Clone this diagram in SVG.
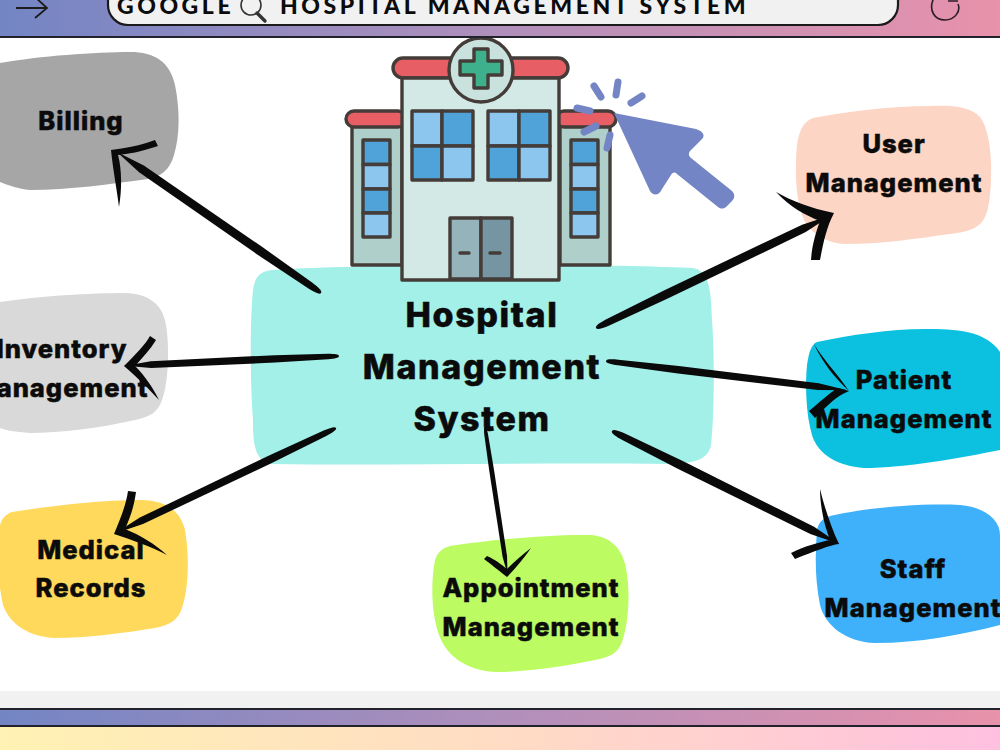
<svg xmlns="http://www.w3.org/2000/svg" width="1000" height="750" viewBox="0 0 1000 750">
<defs>
<linearGradient id="bar" x1="0" x2="1" y1="0" y2="0"><stop offset="0" stop-color="#7385c4"/><stop offset="0.5" stop-color="#b08fbb"/><stop offset="1" stop-color="#e892ab"/></linearGradient>
<linearGradient id="foot" x1="0" x2="1" y1="0" y2="0"><stop offset="0" stop-color="#fff2b3"/><stop offset="0.5" stop-color="#ffdcc4"/><stop offset="1" stop-color="#ffc0e0"/></linearGradient>
<!-- brush stroke, 100 units long; each connector scales it to its own length and weight -->
<path id="shaft" d="M0 0C0 -2 2 -2.6 5 -3L30 -3.9L88 -3.6L100 0L88 3.6L30 3.9L5 3C2 2.6 0 2 0 0Z"/>
</defs>
<style>
.lbl{font-family:"Inter","Open Sans","Liberation Sans",sans-serif;font-weight:800;fill:#0b0b0b;stroke:#0b0b0b;stroke-width:.5;text-anchor:middle;font-size:25.5px;letter-spacing:1px}
.big{font-size:34px;letter-spacing:1.6px}
.ttl{font-family:"Lato","Liberation Sans",sans-serif;font-weight:900;font-size:23px;letter-spacing:3.55px;fill:#0b0b0b}
.ink{fill:#0a0a0a}
.o{stroke:#443c38;stroke-width:3.4;stroke-linejoin:round}
.lt{fill:#8cc6ee}.dk{fill:#4fa3d9}
.sp{fill:none;stroke:#7385c4;stroke-width:7;stroke-linecap:round}
</style>
<rect width="1000" height="750" fill="#fff"/>
<g id="footer">
<rect x="0" y="691" width="1000" height="17" fill="#f1f1f1"/>
<rect x="0" y="708" width="1000" height="18" fill="url(#bar)"/>
<rect x="0" y="708" width="1000" height="2" fill="#22222c"/>
<rect x="0" y="725" width="1000" height="2" fill="#22222c"/>
<rect x="0" y="727" width="1000" height="23" fill="url(#foot)"/>
</g>
<g id="hub">
<path d="M272 270C400 263 590 264 692 268C708 270 711 285 712 320C715 360 714 420 711 445C708 460 695 463 670 464C540 462 400 466 270 464C255 460 253 445 253 420C250 380 250 320 253 290C255 275 262 271 272 270Z" fill="#a2f0e8"/>
<g id="hospital-building">
<rect x="352" y="125" width="50" height="140" class="o" fill="#aecfca"/>
<rect x="560" y="125" width="50" height="140" class="o" fill="#aecfca"/>
<rect x="346" y="111" width="60" height="16" rx="8" class="o" fill="#e75f65"/>
<rect x="556" y="111" width="60" height="16" rx="8" class="o" fill="#e75f65"/>
<rect x="393" y="58" width="175" height="20" rx="10" class="o" fill="#e75f65"/>
<rect x="402" y="78" width="157" height="202" class="o" fill="#d3e9e6"/>
<circle cx="481" cy="70" r="32" class="o" fill="#c9e2de"/>
<path d="M474 49H488V61H502V75H488V88H474V75H460V61H474Z" class="o" fill="#3fb08c"/>
<g class="o">
<rect x="412" y="111" width="30" height="35" class="lt"/><rect x="442" y="111" width="31" height="35" class="dk"/>
<rect x="412" y="146" width="30" height="34" class="dk"/><rect x="442" y="146" width="31" height="34" class="lt"/>
<rect x="488" y="111" width="31" height="35" class="lt"/><rect x="519" y="111" width="31" height="35" class="dk"/>
<rect x="488" y="146" width="31" height="34" class="dk"/><rect x="519" y="146" width="31" height="34" class="lt"/>
<rect x="363" y="140" width="27" height="24.5" class="dk"/><rect x="363" y="164.5" width="27" height="24.5" class="lt"/>
<rect x="363" y="189" width="27" height="24" class="dk"/><rect x="363" y="213" width="27" height="24" class="lt"/>
<rect x="571" y="140" width="27" height="24.5" class="dk"/><rect x="571" y="164.5" width="27" height="24.5" class="lt"/>
<rect x="571" y="189" width="27" height="24" class="dk"/><rect x="571" y="213" width="27" height="24" class="lt"/>
<rect x="450" y="218" width="31" height="61" fill="#95b3bb"/><rect x="481" y="218" width="31" height="61" fill="#7595a3"/>
</g>
<path d="M460 253H469M490 253H500" stroke="#443c38" stroke-width="3.4" stroke-linecap="round"/>
</g>
<g id="cursor">
<path d="M614 113L696 129C705 132 705 137 701 140L690 151C688 154 689 156 691 158L732 191C735 194 735 198 732 201L726 207C723 209 721 209 718 207L677 174C675 172 673 172 671 175L662 189C659 196 653 196 650 191Z" fill="#7385c4"/>
<path class="sp" d="M594 86L601 97M618 82L616 95M642 96L631 103M577 108L590 111M584 132L596 126M607 148L610 135"/>
</g>
<text class="lbl big" x="482" y="327">Hospital</text>
<text class="lbl big" x="482" y="379">Management</text>
<text class="lbl big" x="482" y="431">System</text>
</g>
<g id="top-bar">
<rect x="0" y="0" width="1000" height="37" fill="url(#bar)"/>
<rect x="0" y="36" width="1000" height="2" fill="#22222c"/>
<rect x="108" y="-30" width="790" height="55" rx="20" fill="#f1f1f1" stroke="#1a1a1a" stroke-width="2.2"/>
<path d="M16 8H47M35 -3L47 8L35 18" fill="none" stroke="#1c1c1c" stroke-width="1.8"/>
<path d="M933 0C929 10 934 20 945 20C955 20 961 11 958 4M948 1H958" fill="none" stroke="#2a1c28" stroke-width="1.6"/>
<text class="ttl" x="117" y="14">GOOGLE</text>
<circle cx="251" cy="5" r="10" fill="none" stroke="#333" stroke-width="1.6"/>
<path d="M257 13L265 21" stroke="#333" stroke-width="3.4" stroke-linecap="round"/>
<text class="ttl" x="280" y="14">HOSPITAL MANAGEMENT SYSTEM</text>
</g>
<g id="billing">
<path d="M0 63C40 56 95 52 130 52C155 52 170 62 175 85C180 110 180 135 174 155C170 170 160 177 148 179C110 184 70 190 30 190C18 189 8 185 0 182Z" fill="#a6a6a6"/>
<text class="lbl" x="81" y="130">Billing</text>
</g>
<g id="inventory">
<path d="M0 302C40 296 90 293 125 293C150 294 163 305 166 325C170 350 168 385 162 400C158 412 150 417 135 420C100 428 60 433 30 433C15 432 5 430 0 428Z" fill="#d9d9d9"/>
<text class="lbl" x="62" y="358">Inventory</text>
<text class="lbl" x="60" y="397">Management</text>
</g>
<g id="medical">
<path d="M12 512C50 506 100 500 140 500C165 500 180 510 185 530C190 560 188 590 182 608C178 620 170 625 155 628C125 633 85 638 55 638C30 637 10 625 3 605C-3 580 -3 545 0 525C2 518 6 514 12 512Z" fill="#ffd95c"/>
<text class="lbl" x="91" y="559">Medical</text>
<text class="lbl" x="91" y="597">Records</text>
</g>
<g id="appointment">
<path d="M450 546C490 540 550 534 590 535C610 536 622 548 626 568C631 595 628 625 622 642C618 652 612 656 600 659C565 666 530 672 495 672C465 670 445 655 438 632C431 610 431 580 435 560C437 553 442 548 450 546Z" fill="#bcfb62"/>
<text class="lbl" x="531" y="597">Appointment</text>
<text class="lbl" x="531" y="636">Management</text>
</g>
<g id="staff">
<path d="M827 517C860 508 920 503 960 505C985 507 1000 520 1000 535V625C960 635 920 643 875 643C845 642 825 625 820 605C815 580 815 555 817 530C818 524 822 519 827 517Z" fill="#3fb1fb"/>
<text class="lbl" x="913" y="578">Staff</text>
<text class="lbl" x="913" y="617">Management</text>
</g>
<g id="patient">
<path d="M817 342C850 335 890 329 925 329C955 329 985 330 1000 352V450C960 458 905 468 864 468C838 466 818 455 812 435C806 415 805 385 807 365C809 352 811 345 817 342Z" fill="#0cc0e0"/>
<text class="lbl" x="904" y="389">Patient</text>
<text class="lbl" x="904" y="428">Management</text>
</g>
<g id="user">
<path d="M813 118C850 111 890 106 930 106C950 105 970 106 980 117C990 130 992 160 991 180C990 205 987 218 980 224C974 230 965 232 950 234C915 239 880 244 845 244C825 243 808 232 802 215C795 195 795 165 797 145C799 130 804 121 813 118Z" fill="#fcd5c5"/>
<text class="lbl" x="894" y="153">User</text>
<text class="lbl" x="894" y="192">Management</text>
</g>
<g id="connectors" class="ink">
<use href="#shaft" transform="translate(321 293) rotate(214.65) scale(2.48 1.15)"/>
<path d="M111 150C125 148 140 146 155 140L158 146C140 152 128 154 118 155C122 170 122 190 119 207C117 190 113 170 111 150Z"/>
<use href="#shaft" transform="translate(339 356) rotate(177.4) scale(2.14 .95)"/>
<path d="M124 366C135 355 145 345 150 336L156 340C150 350 142 358 135 366C145 376 153 388 159 400C150 390 138 378 124 366Z"/>
<use href="#shaft" transform="translate(336 428) rotate(154.5) scale(2.45 1)"/>
<path d="M114 534C120 520 126 505 128 491L136 492C134 507 130 518 125 529C140 535 155 544 167 555C150 546 132 540 114 534Z"/>
<use href="#shaft" transform="translate(485 427) rotate(81.3) scale(1.49 .62)"/>
<path d="M507 577C498 570 492 565 484 559L487 556C496 560 502 565 507 569C514 562 522 555 531 548C524 558 516 568 507 577Z"/>
<use href="#shaft" transform="translate(612 431) rotate(26.4) scale(2.54 1.15)"/>
<path d="M839 544C830 545 815 551 795 559L791 553C805 546 820 542 830 540C824 525 820 505 820 489C824 505 830 525 839 544Z"/>
<use href="#shaft" transform="translate(606 361) rotate(6.9) scale(2.43 .95)"/>
<path d="M849 391C835 378 822 362 814 344C822 358 836 372 849 391C836 396 826 407 815 418L809 411C820 402 828 394 838 388Z"/>
<use href="#shaft" transform="translate(596 328) rotate(-25.6) scale(2.62 1.15)"/>
<path d="M834 213C826 228 823 245 820 260H811C812 245 816 232 820 221C805 215 790 207 776 192C792 201 810 208 834 213Z"/>
</g>
</svg>
